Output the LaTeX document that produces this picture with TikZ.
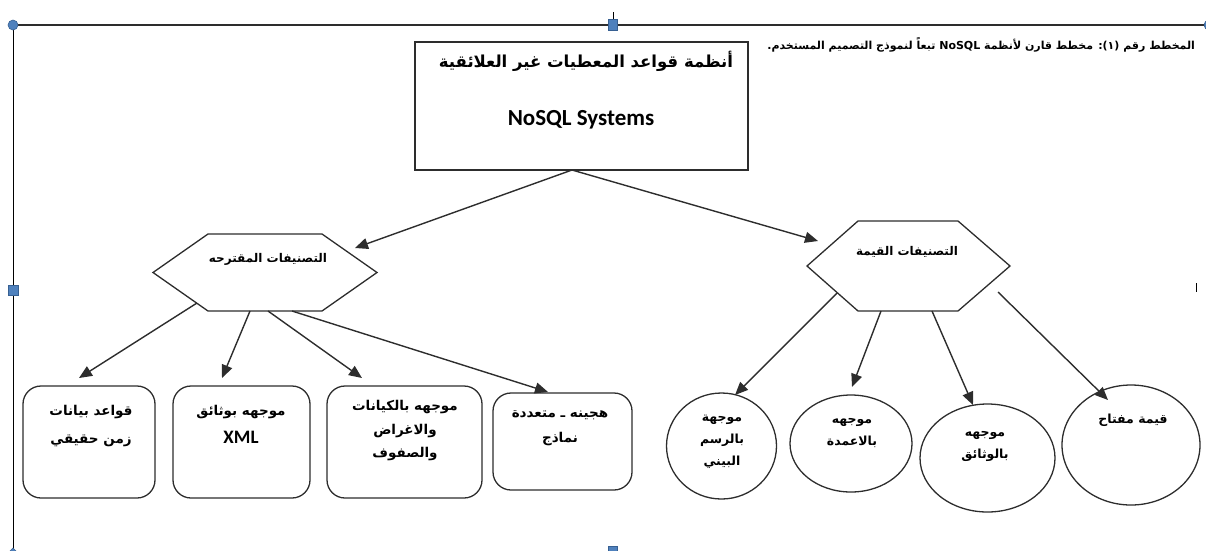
\documentclass[tikz,border=0pt]{standalone}
\usepackage{fontspec}
\setmainfont{Carlito}
\newfontfamily\ar[Script=Arabic]{DejaVu Sans}
\TeXXeTstate=1
\usetikzlibrary{arrows.meta,shapes.geometric}
\definecolor{hblue}{RGB}{79,129,189}
\definecolor{hborder}{RGB}{55,96,146}
\definecolor{lc}{RGB}{45,45,45}
\begin{document}
\begin{tikzpicture}[x=1pt,y=-1pt,
  every node/.style={inner sep=0pt, outer sep=0pt},
  boxline/.style={draw=lc, line width=1.3pt},
  conn/.style={draw=lc, line width=1.4pt, -{Triangle[length=13pt,width=11pt]}},
  artext/.style={font=\ar\bfseries\fontsize{13.5}{28}\selectfont, align=center},
  eltext/.style={font=\ar\bfseries\fontsize{12.5}{22}\selectfont, align=center},
  handle/.style={fill=hblue, draw=hborder, line width=0.6pt}
]
\useasboundingbox (0,0) rectangle (1206,550);
% selection frame
\draw[lc, line width=1.6pt] (13,25) -- (1206,25);
\draw[black, line width=0.9pt] (13,25) -- (13,550);
\draw[black, line width=0.6pt] (613,12) -- (613,20);
\draw[black, line width=0.6pt] (1196,283) -- (1196,292);
\node[handle, circle, minimum size=10pt] (hc1) at (13,25) {};
\node[handle, circle, minimum size=10pt] (hc2) at (1209,25) {};
\node[handle, rectangle, minimum width=9pt, minimum height=11pt] (hs1) at (613,25) {};
\node[handle, rectangle, minimum width=10pt, minimum height=10pt] (hs2) at (13,290) {};
\node[handle, rectangle, minimum width=9pt, minimum height=9pt] (hs3) at (613,551) {};
\node[handle, diamond, minimum size=10pt] (hd1) at (13,553) {};

% caption
\node[font=\ar\bfseries\fontsize{11}{12}\selectfont, anchor=east] (cap) at (1195,45)
  {\beginR المخطط رقم (١): مخطط قارن لأنظمة \beginL NoSQL\endL{} تبعاً لنموذج التصميم المستخدم.\endR};

% top box
\node[boxline, rectangle, minimum width=333pt, minimum height=128pt] (top) at (581.5,106) {};
\node[font=\ar\bfseries\fontsize{16.5}{18}\selectfont] (toptitle) at (586,61) {\beginR أنظمة قواعد المعطيات غير العلائقية\endR};
\node[font=\bfseries\fontsize{23}{25}\selectfont] (topsub) at (581,120) {NoSQL Systems};

% hexagons
\coordinate (lh) at (265,272.5);
\draw[boxline] (153,272.5) -- (208,234) -- (322,234) -- (377,272.5) -- (322,311) -- (208,311) -- cycle;
\node[font=\ar\bfseries\fontsize{12}{13}\selectfont] (lhtext) at (268,259) {\beginR التصنيفات المقترحه\endR};
\coordinate (rh) at (908.5,266);
\draw[boxline] (807,266) -- (858,221) -- (958,221) -- (1010,266) -- (958,311) -- (858,311) -- cycle;
\node[font=\ar\bfseries\fontsize{12}{13}\selectfont] (rhtext) at (907,252) {\beginR التصنيفات القيمة\endR};

% rounded boxes
\node[boxline, rectangle, rounded corners=18pt, minimum width=132pt, minimum height=112pt] (b1) at (89,442) {};
\node[artext] (b1t) at (91,426) {\beginR قواعد بيانات\endR\\\beginR زمن حقيقي\endR};
\node[boxline, rectangle, rounded corners=18pt, minimum width=137pt, minimum height=112pt] (b2) at (241.5,442) {};
\node[artext] (b2t) at (241,424) {\beginR موجهه بوثائق\endR\\{\fontspec{Carlito}\bfseries\fontsize{19}{20}\selectfont XML}};
\node[boxline, rectangle, rounded corners=18pt, minimum width=155pt, minimum height=112pt] (b3) at (404.5,442) {};
\node[artext, font=\ar\bfseries\fontsize{13.5}{23.5}\selectfont] (b3t) at (405,431) {\beginR موجهه بالكيانات\endR\\\beginR والاغراض\endR\\\beginR والصفوف\endR};
\node[boxline, rectangle, rounded corners=18pt, minimum width=139pt, minimum height=97pt] (b4) at (562.5,441.5) {};
\node[artext, font=\ar\bfseries\fontsize{13.5}{25}\selectfont] (b4t) at (560,428) {\beginR هجينه ـ متعددة\endR\\\beginR نماذج\endR};

% ellipses
\node[boxline, ellipse, minimum width=110pt, minimum height=106pt] (e1) at (721.5,446) {};
\node[eltext] (e1t) at (722,442) {\beginR موجهة\endR\\\beginR بالرسم\endR\\\beginR البيني\endR};
\node[boxline, ellipse, minimum width=122pt, minimum height=97pt] (e2) at (851,443.5) {};
\node[eltext] (e2t) at (852,433) {\beginR موجهه\endR\\\beginR بالاعمدة\endR};
\node[boxline, ellipse, minimum width=135pt, minimum height=108pt] (e3) at (987.5,458) {};
\node[eltext] (e3t) at (985,446) {\beginR موجهه\endR\\\beginR بالوثائق\endR};
\node[boxline, ellipse, minimum width=138pt, minimum height=120pt] (e4) at (1131,445) {};
\node[eltext] (e4t) at (1133,420) {\beginR قيمة مفتاح\endR};

% connector end points
\coordinate (topL) at (572,170);
\coordinate (topR) at (572,170);
\coordinate (lhA) at (355,248);
\coordinate (rhA) at (818,241);
\coordinate (lho1) at (197,303);
\coordinate (lho2) at (250,311);
\coordinate (lho3) at (268,311);
\coordinate (lho4) at (292,311);
\coordinate (b1in) at (79,378);
\coordinate (b2in) at (222,378);
\coordinate (b3in) at (362,378);
\coordinate (b4in) at (548,392);
\coordinate (rho1) at (837,293);
\coordinate (rho2) at (881,311);
\coordinate (rho3) at (932,311);
\coordinate (rho4) at (998,292);
\coordinate (e1in) at (735,395);
\coordinate (e2in) at (852,387);
\coordinate (e3in) at (973,405);
\coordinate (e4in) at (1108,400);

\draw[conn] (topL) -- (lhA);
\draw[conn] (topR) -- (rhA);
\draw[conn] (lho1) -- (b1in);
\draw[conn] (lho2) -- (b2in);
\draw[conn] (lho3) -- (b3in);
\draw[conn] (lho4) -- (b4in);
\draw[conn] (rho1) -- (e1in);
\draw[conn] (rho2) -- (e2in);
\draw[conn] (rho3) -- (e3in);
\draw[conn] (rho4) -- (e4in);
\end{tikzpicture}
\end{document}
